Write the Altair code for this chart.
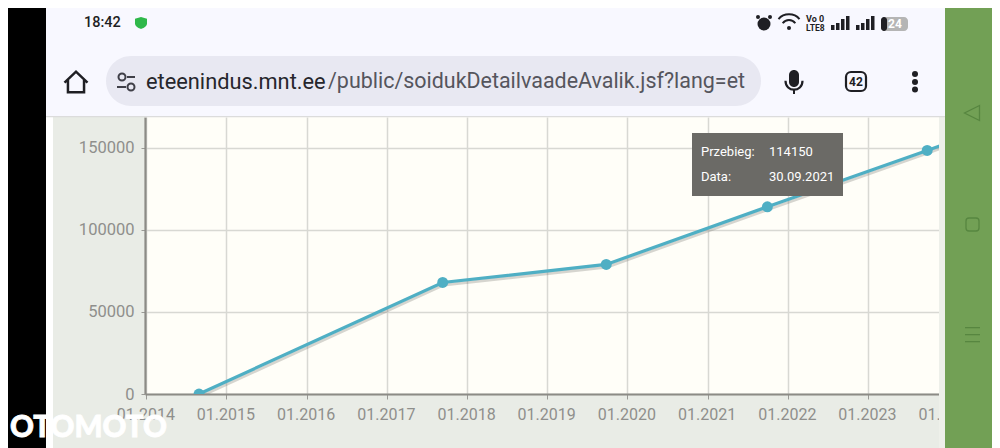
import altair as alt
import pandas as pd

# values
DATES = ["2014-08-29", "2017-09-12", "2019-09-27", "2021-09-30", "2023-09-28", "2025-09-28"]
MILEAGE = [0, 68000, 79000, 114150, 148500, 184000]
TICK_YEARS = [2014, 2015, 2016, 2017, 2018, 2019, 2020, 2021, 2022, 2023, 2024]
Y_TICKS = [0, 50000, 100000, 150000]

PLOT_LEFT = 145
PLOT_TOP = 117
PLOT_W = 843
PLOT_H = 277
ONE = pd.DataFrame({"n": [1]})
data = pd.DataFrame({"date": DATES, "km": MILEAGE})

FONT = "Roboto"
BAR = "#f8f8ff"
GREEN = "#72a055"
DARK_GREEN = "#578640"
INK = "#1f1f24"


def px(x):
    return alt.value(x - PLOT_LEFT)


def py(y):
    return alt.value(y - PLOT_TOP)


def box(x1, x2, y1, y2, color, radius=0, stroke=None, stroke_width=0):
    # flat piece of the phone screen around the chart, in page pixels
    opts = {"cornerRadius": radius, "fill": color}
    if stroke:
        opts.update(stroke=stroke, strokeWidth=stroke_width)
    return alt.Chart(ONE).mark_rect(**opts).encode(x=px(x1), x2=px(x2), y=py(y1), y2=py(y2))


def label(x, y, text, size=13, color="#ffffff", weight="normal", align="left", font=FONT, **kw):
    return alt.Chart(ONE).mark_text(
        text=text, font=font, fontSize=size, color=color, fontWeight=weight, align=align, baseline="middle", **kw
    ).encode(x=px(x), y=py(y))


def icon(x, y, shape, width, color=INK, filled=True, stroke_width=2):
    opts = {"filled": filled, "color": color, "opacity": 1}
    if not filled:
        opts["strokeWidth"] = stroke_width
    return alt.Chart(ONE).mark_point(shape=shape, size=width * width, **opts).encode(x=px(x), y=py(y))


x_enc = alt.X(
    "date:T",
    title=None,
    scale=alt.Scale(
        domain=[alt.DateTime(year=2013, month=12, date=26), alt.DateTime(year=2024, month=7, date=1)],
        nice=False,
    ),
    axis=alt.Axis(
        values=[alt.DateTime(year=y, month=1, date=1) for y in TICK_YEARS],
        format="%m.%Y",
        labelFont=FONT,
        labelFontSize=16,
        labelColor="#8f8f8c",
        labelPadding=7,
        labelOffset=-1,
        labelFlush=False,
        labelOverlap=False,
        tickColor="#9a9a96",
        tickSize=5,
        domainColor="#8c8b86",
        domainWidth=2.2,
        gridColor="#d8d8d3",
        gridWidth=1.5,
    ),
)
y_enc = alt.Y(
    "km:Q",
    title=None,
    scale=alt.Scale(domain=[0, 168900], nice=False),
    axis=alt.Axis(
        values=Y_TICKS,
        format="d",
        labelFont=FONT,
        labelFontSize=16.5,
        labelColor="#8f8f8c",
        labelPadding=7,
        tickColor="#9a9a96",
        tickSize=4,
        domainColor="#8c8b86",
        domainWidth=2.2,
        gridColor="#d8d8d3",
        gridWidth=1.5,
    ),
)

shadow = alt.Chart(data).mark_line(
    color="#77776f", opacity=0.3, strokeWidth=3, xOffset=1, yOffset=2.5, clip=True
).encode(x=x_enc, y=y_enc)
line = alt.Chart(data).mark_line(color="#4fafc4", strokeWidth=3.2, clip=True).encode(x=x_enc, y=y_enc)
points = alt.Chart(data).mark_circle(color="#4fafc4", size=120, opacity=1, clip=True).encode(x=x_enc, y=y_enc)

# tooltip over the fourth point
tooltip = [
    box(692, 843, 133, 196, "#6b6a66"),
    label(701, 152, "Przebieg:"),
    label(769, 152, "114150"),
    label(701, 177, "Data:"),
    label(769, 177, "30.09.2021"),
]

# everything that covers the chart: side panels and browser bars
frame = [
    box(0, 46, 0, 448, "#000000"),
    box(46, 53, 116, 448, "#ffffff"),
    box(939, 945, 116, 448, "#eef0ea"),
    box(945, 1000, 0, 448, GREEN),
    box(46, 945, 0, 116, BAR),
    box(46, 945, 116, 117.2, "#dcdcdc"),
]

status = [
    label(84, 23, "18:42", size=14.5, color=INK, weight=500),
    icon(141, 23, "M-1,-.7 L0,-1 L1,-.7 L1,.1 C1,.6 .4,.9 0,1 C-.4,.9 -1,.6 -1,.1 Z", 12, "#2fb84a"),
    icon(764, 24, "circle", 13),
    icon(758, 17, "circle", 4),
    icon(770, 17, "circle", 4),
    icon(789, 18, "M-1,.1 C-.5,-.5 .5,-.5 1,.1 M-.6,.5 C-.3,.1 .3,.1 .6,.5", 21, filled=False, stroke_width=2),
    icon(789, 28, "circle", 4),
    label(806, 18.5, "Vo 0", size=9, color=INK, weight="bold"),
    label(806, 27.5, "LTE8", size=8.5, color=INK, weight="bold"),
]
for left in (831, 856):
    for k, top in enumerate((25, 23, 19, 16)):
        status.append(box(left + k * 5, left + k * 5 + 3.5, top, 30, INK))
status += [
    box(881, 908, 17, 31, "#b5b5b5", radius=4),
    box(881, 887, 17, 31, INK, radius=3),
    label(895, 24, "24", size=12, weight="bold", align="center"),
]

toolbar = [
    icon(76, 82, "M-1,.05 L0,-.9 L1,.05 M-.7,-.2 L-.7,.9 L.7,.9 L.7,-.2", 23, filled=False, stroke_width=2.5),
    box(106, 761, 56, 106, "#e8e8f2", radius=25),
    box(117, 126, 86, 88, "#3f3f48"),
    box(127, 135, 76, 78, "#3f3f48"),
    icon(122, 77, "circle", 7, "#3f3f48", filled=False, stroke_width=2),
    icon(131, 87, "circle", 7, "#3f3f48", filled=False, stroke_width=2),
    label(146, 82, "eteenindus.mnt.ee", size=21.8, color="#26262c"),
    label(328, 82, "/public/soidukDetailvaadeAvalik.jsf?lang=et", size=21.45, color="#55555d"),
    box(789, 799, 70, 87, INK, radius=5),
    icon(794, 85, "M-1,-.5 C-1,.9 1,.9 1,-.5", 17, filled=False, stroke_width=2.2),
    box(793, 795, 90, 94, INK),
    box(846, 866, 72, 91, BAR, radius=5, stroke=INK, stroke_width=2.2),
    label(856, 82, "42", size=12, color=INK, weight="bold", align="center"),
    icon(915, 74, "circle", 6),
    icon(915, 82, "circle", 6),
    icon(915, 89.5, "circle", 6),
]

nav = [
    icon(972, 113, "M1,-1 L-1,0 L1,1 Z", 15, DARK_GREEN, filled=False, stroke_width=1.3),
    box(966, 979, 218, 231, GREEN, radius=3, stroke=DARK_GREEN, stroke_width=1.3),
    box(965, 980, 327, 328.3, DARK_GREEN),
    box(965, 980, 334, 335.3, DARK_GREEN),
    box(965, 980, 341, 342.3, DARK_GREEN),
]

watermark = [label(10, 428, "OTOMOTO", size=29.5, weight=900, font="Lato", stroke="#ffffff", strokeWidth=0.8)]

chart = (
    alt.layer(shadow, line, points, *tooltip, *frame, *status, *toolbar, *nav, *watermark)
    .properties(
        width=PLOT_W,
        height=PLOT_H,
        autosize=alt.AutoSizeParams(type="none"),
        padding={"left": PLOT_LEFT - 8, "top": PLOT_TOP - 8, "right": 4, "bottom": 54},
        background="#e9ece6",
    )
    .configure_view(fill="#fffef8", stroke=None)
)

chart.save("out.html", embed_options={"renderer": "svg", "actions": False})
